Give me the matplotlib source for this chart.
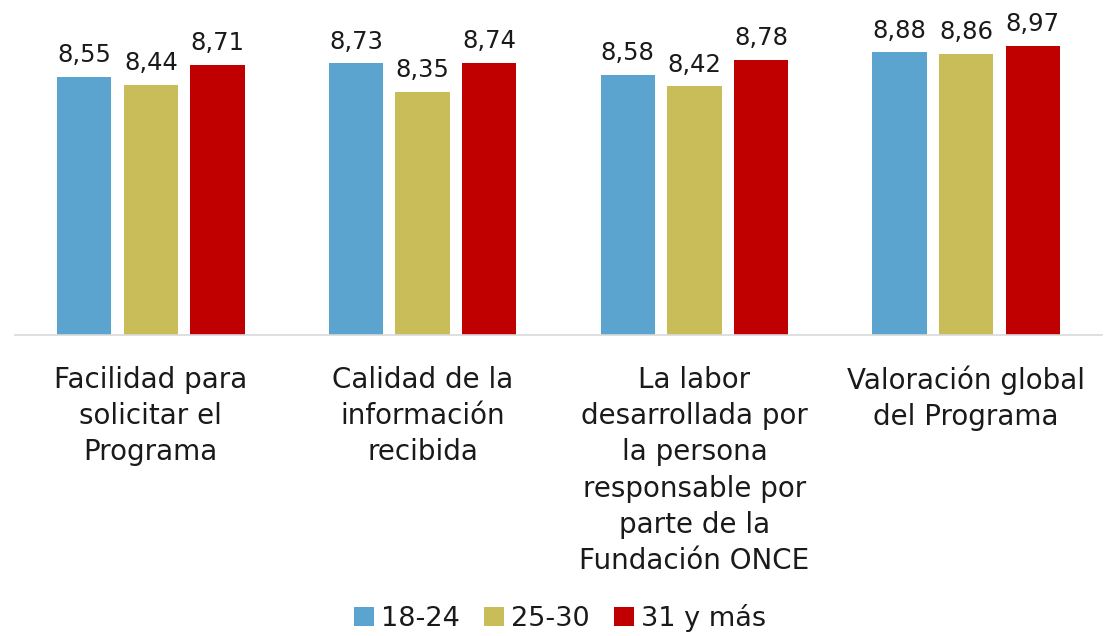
import matplotlib.pyplot as plt
import numpy as np

categories = [
    "Facilidad para\nsolicitar el\nPrograma",
    "Calidad de la\ninformación\nrecibida",
    "La labor\ndesarrollada por\nla persona\nresponsable por\nparte de la\nFundación ONCE",
    "Valoración global\ndel Programa",
]
series_names = ["18-24", "25-30", "31 y más"]
values_18_24 = [8.55, 8.73, 8.58, 8.88]
values_25_30 = [8.44, 8.35, 8.42, 8.86]
values_31_mas = [8.71, 8.74, 8.78, 8.97]

colors = ["#5BA4CF", "#C8BD58", "#C00000"]

plt.rcParams["font.family"] = ["DejaVu Sans"]

fig = plt.figure(figsize=(11.04, 6.36), dpi=100)
ax = fig.add_axes([15 / 1104, 301 / 636, 1087 / 1104, 326.5 / 636])

x = np.arange(len(categories))
width = 0.2
offsets = [-0.245, 0, 0.245]
all_series = [values_18_24, values_25_30, values_31_mas]

for vals, off, color, name in zip(all_series, offsets, colors, series_names):
    bars = ax.bar(x + off, vals, width, color=color, label=name, zorder=2)
    for rect, v in zip(bars, vals):
        ax.annotate(
            f"{v:.2f}".replace(".", ","),
            (rect.get_x() + rect.get_width() / 2, v),
            xytext=(0, 7),
            textcoords="offset points",
            ha="center",
            va="bottom",
            fontsize=17.5,
            color="#1a1a1a",
        )

ax.set_xlim(-0.5, len(categories) - 0.5)
ax.set_ylim(5.07, 9.47)
ax.set_yticks([])
ax.set_xticks(x)
ax.set_xticklabels(categories, fontsize=20, color="#1a1a1a", linespacing=1.38)
ax.tick_params(axis="x", length=0, pad=22)
for side in ["top", "right", "left"]:
    ax.spines[side].set_visible(False)
ax.spines["bottom"].set_color("#D9D9D9")
ax.spines["bottom"].set_linewidth(1.2)

fig.legend(
    loc="center",
    bbox_to_anchor=(560 / 1104, 1 - 618 / 636),
    ncol=3,
    frameon=False,
    fontsize=19.5,
    handlelength=0.75,
    handleheight=0.75,
    handletextpad=0.25,
    columnspacing=0.9,
    labelcolor="#1a1a1a",
)

fig.savefig("out.png", dpi=100)
